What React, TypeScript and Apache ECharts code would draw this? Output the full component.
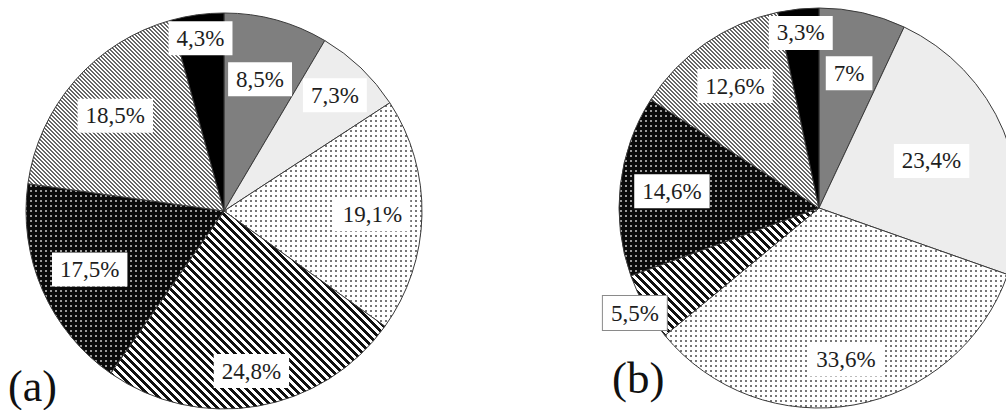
import React, { useEffect, useRef } from 'react';
import * as echarts from 'echarts';

// Slice order (clockwise from 12 o'clock) and the fill used for each slice
const sliceNames = ['grey', 'light', 'dotted', 'striped', 'darkDotted', 'hatched', 'black'];

// Shares in percent
const sharesA = [8.5, 7.3, 19.1, 24.8, 17.5, 18.5, 4.3];
const sharesB = [7, 23.4, 33.6, 5.5, 14.6, 12.6, 3.3];

const panelTitles = ['(a)', '(b)'];

// Label distance from the centre, as a fraction of the radius
const labelRadiusA = [0.69, 0.81, 0.75, 0.82, 0.74, 0.73, 0.88];
const labelRadiusB = [0.69, 0.61, 0.77, 1.06, 0.74, 0.74, 0.88];

const FONT = 'Times New Roman, Liberation Serif, serif';

type Tile = { image: HTMLCanvasElement; repeat: 'repeat'; imageWidth: number; imageHeight: number };

function makeTile(size: number, bg: string, fg: string, on: (x: number, y: number) => boolean): Tile {
  const c = document.createElement('canvas');
  c.width = size;
  c.height = size;
  const ctx = c.getContext('2d')!;
  ctx.fillStyle = bg;
  ctx.fillRect(0, 0, size, size);
  ctx.fillStyle = fg;
  for (let y = 0; y < size; y++) {
    for (let x = 0; x < size; x++) {
      if (on(x, y)) ctx.fillRect(x, y, 1, 1);
    }
  }
  return { image: c, repeat: 'repeat', imageWidth: size, imageHeight: size };
}

function buildFills(): Record<string, any> {
  const mod = (a: number, n: number) => ((a % n) + n) % n;
  return {
    grey: '#7f7f7f',
    light: '#ededed',
    dotted: makeTile(5, '#ffffff', '#777777', (x, y) => x < 2 && y < 2),
    striped: makeTile(8, '#ffffff', '#111111', (x, y) => mod(x - y, 8) < 4),
    darkDotted: makeTile(5, '#0a0a0a', '#9a9a9a', (x, y) => x < 2 && y < 2),
    hatched: makeTile(4, '#ffffff', '#666666', (x, y) => mod(x - y, 4) < 2),
    black: '#000000',
  };
}

const fmt = (v: number) => String(v).replace('.', ',') + '%';

function pieSeries(
  shares: number[],
  labelRadius: number[],
  center: [number, number],
  radius: number,
  fills: Record<string, any>,
  boxedIndex: number
) {
  const total = shares.reduce((s, v) => s + v, 0);
  const mids: number[] = [];
  let acc = 0;
  shares.forEach((v) => {
    mids.push(((acc + v / 2) / total) * Math.PI * 2);
    acc += v;
  });
  return {
    type: 'pie',
    center,
    radius,
    startAngle: 90,
    clockwise: true,
    silent: true,
    avoidLabelOverlap: false,
    itemStyle: { borderColor: '#3a3a3a', borderWidth: 1 },
    label: {
      show: true,
      position: 'inside',
      formatter: (p: any) => fmt(p.value),
      fontFamily: FONT,
      fontSize: 23,
      color: '#1e1e1e',
      backgroundColor: '#ffffff',
      padding: [6, 8, 5, 8],
    },
    labelLine: { show: false },
    labelLayout: (p: any) => {
      const i = p.dataIndex;
      const a = mids[i];
      const r = labelRadius[i] * radius;
      return { x: center[0] + r * Math.sin(a), y: center[1] - r * Math.cos(a) };
    },
    emphasis: { disabled: true },
    data: shares.map((v, i) => ({
      name: sliceNames[i],
      value: v,
      itemStyle: { color: fills[sliceNames[i]] },
      label: i === boxedIndex ? { borderColor: '#8a8a8a', borderWidth: 1 } : undefined,
    })),
  };
}

export default function App() {
  const ref = useRef<HTMLDivElement>(null);

  useEffect(() => {
    if (!ref.current) return;
    const chart = echarts.init(ref.current, undefined, { renderer: 'svg' });
    const fills = buildFills();
    chart.setOption({
      animation: false,
      backgroundColor: '#ffffff',
      series: [
        pieSeries(sharesA, labelRadiusA, [224, 211], 198, fills, -1),
        pieSeries(sharesB, labelRadiusB, [819, 208], 200, fills, 3),
      ],
      graphic: [
        {
          type: 'text',
          left: 8,
          top: 364,
          style: { text: panelTitles[0], font: `44px ${FONT}`, fill: '#111111' },
          z: 100,
        },
        {
          type: 'text',
          left: 612,
          top: 355,
          style: { text: panelTitles[1], font: `45px ${FONT}`, fill: '#111111' },
          z: 100,
        },
      ],
    });
    return () => chart.dispose();
  }, []);

  return (
    <div
      ref={ref}
      style={{ position: 'absolute', left: 0, top: 0, width: 1006, height: 410, background: '#fff' }}
    />
  );
}
